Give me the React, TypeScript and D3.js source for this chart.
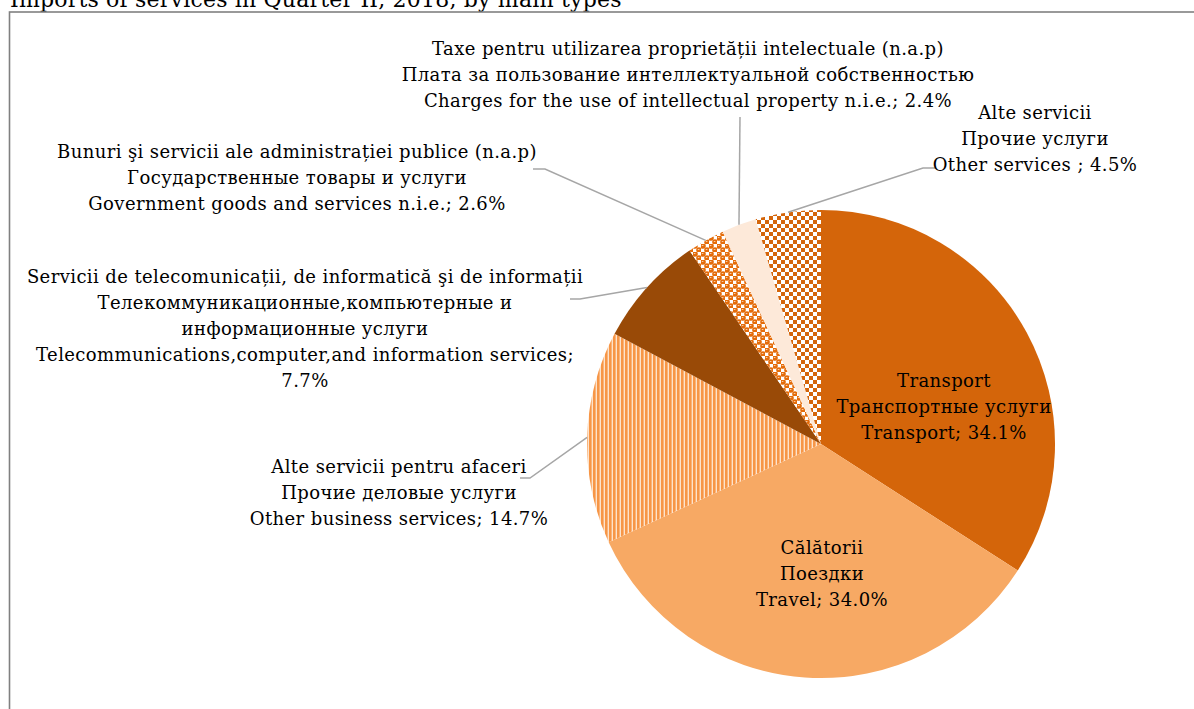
import React from "react";
import * as d3 from "d3";

const categories = [
  "Transport",
  "Travel",
  "Other business services",
  "Telecommunications, computer and information services",
  "Government goods and services n.i.e.",
  "Charges for the use of intellectual property n.i.e.",
  "Other services",
];
const values = [34.1, 34.0, 14.7, 7.7, 2.6, 2.4, 4.5];
const labelTexts: string[][] = [
  ["Transport", "Транспортные услуги", "Transport; 34.1%"],
  ["Călătorii", "Поездки", "Travel; 34.0%"],
  ["Alte servicii pentru afaceri", "Прочие деловые услуги", "Other business services; 14.7%"],
  [
    "Servicii de telecomunicații, de informatică şi de informații",
    "Телекоммуникационные,компьютерные и",
    "информационные услуги",
    "Telecommunications,computer,and information services;",
    "7.7%",
  ],
  [
    "Bunuri şi servicii ale administrației publice (n.a.p)",
    "Государственные товары и услуги",
    "Government goods and services n.i.e.; 2.6%",
  ],
  [
    "Taxe pentru utilizarea proprietății intelectuale (n.a.p)",
    "Плата за пользование интеллектуальной собственностью",
    "Charges for the use of intellectual property n.i.e.; 2.4%",
  ],
  ["Alte servicii", "Прочие услуги", "Other services ; 4.5%"],
];
const title = "Imports of services in Quarter II, 2018, by main types";

// layout (not data)
const W = 1194;
const H = 709;
const cx = 821;
const cy = 444;
const R = 234;
const fills = [
  "#D4650A",
  "#F7A964",
  "url(#stripes)",
  "#994A07",
  "url(#dots)",
  "#FDE9D9",
  "url(#checker)",
];
const labelPos: { x: number; y: number; leader?: [number, number][] }[] = [
  { x: 944, y: 381 },
  { x: 822, y: 548 },
  { x: 399, y: 467, leader: [[520, 478], [530, 478]] },
  { x: 305, y: 277, leader: [[570, 299], [580, 299]] },
  { x: 297, y: 152, leader: [[533, 169], [545, 169]] },
  { x: 688, y: 49, leader: [[740, 117]] },
  { x: 1035, y: 113, leader: [[936, 168], [923, 168]] },
];
const lineGap = 25.8;
const FONT = "'DejaVu Serif', serif";

export default function App() {
  const pie = d3
    .pie<number>()
    .sort(null)
    .value((d) => d)(values);
  const arc = d3.arc<d3.PieArcDatum<number>>().innerRadius(0).outerRadius(R);

  return (
    <svg
      width={W}
      height={H}
      style={{ position: "absolute", left: 0, top: 0, background: "#fff" }}
    >
      <defs>
        <pattern id="checker" width={8} height={8} patternUnits="userSpaceOnUse">
          <rect width={8} height={8} fill="#fff" />
          <rect x={0} y={0} width={4} height={4} fill="#D4650A" />
          <rect x={4} y={4} width={4} height={4} fill="#D4650A" />
        </pattern>
        <pattern id="stripes" width={4} height={4} patternUnits="userSpaceOnUse">
          <rect width={4} height={4} fill="#FDE3CC" />
          <rect x={0} y={0} width={2.6} height={4} fill="#F79646" />
        </pattern>
        <pattern id="dots" width={8} height={8} patternUnits="userSpaceOnUse">
          <rect width={8} height={8} fill="#fff" />
          <circle cx={2} cy={2} r={2.8} fill="#E46C0A" />
          <circle cx={6} cy={6} r={2.8} fill="#E46C0A" />
          <rect x={0.8} y={1.2} width={1.6} height={0.8} fill="#fde0c8" />
          <rect x={4.8} y={5.2} width={1.6} height={0.8} fill="#fde0c8" />
        </pattern>
      </defs>
      <text x={10} y={7} fontFamily={FONT} fontSize={22} letterSpacing={0.2} fill="#000">
        {title}
      </text>
      <rect
        x={9.5}
        y={12}
        width={W + 20}
        height={H + 20}
        fill="none"
        stroke="#808080"
        strokeWidth={1.6}
      />
      <g transform={`translate(${cx},${cy})`}>
        {pie.map((d, i) => (
          <path key={categories[i]} d={arc(d) || ""} fill={fills[i]} />
        ))}
      </g>
      {pie.map((d, i) => {
        const lp = labelPos[i];
        if (!lp.leader) return null;
        const mid = (d.startAngle + d.endAngle) / 2;
        const ex = cx + R * Math.sin(mid);
        const ey = cy - R * Math.cos(mid);
        const pts = [...lp.leader, [ex, ey] as [number, number]];
        return (
          <polyline
            key={"l" + i}
            points={pts.map((p) => p.join(",")).join(" ")}
            fill="none"
            stroke="#A6A6A6"
            strokeWidth={1.5}
          />
        );
      })}
      {labelTexts.map((lines, i) => (
        <text
          key={"t" + i}
          fontFamily={FONT}
          fontSize={18}
          letterSpacing={0.4}
          fill="#000"
          textAnchor="middle"
        >
          {lines.map((ln, j) => (
            <tspan
              key={j}
              x={labelPos[i].x}
              y={labelPos[i].y + j * lineGap}
              dy="0.35em"
            >
              {ln}
            </tspan>
          ))}
        </text>
      ))}
    </svg>
  );
}
